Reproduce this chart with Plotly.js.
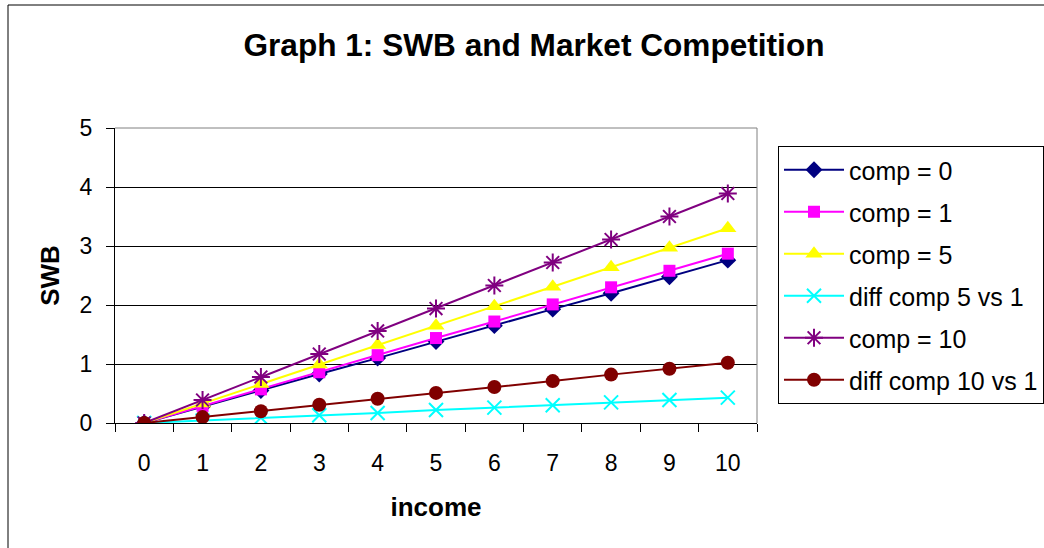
<!DOCTYPE html>
<html>
<head>
<meta charset="utf-8">
<script src="https://cdn.plot.ly/plotly-3.0.1.min.js"></script>
<style>
html,body{margin:0;padding:0;background:#fff;}
#chart{width:1044px;height:548px;}
</style>
</head>
<body>
<div id="chart"></div>
<script>
const income = ["0","1","2","3","4","5","6","7","8","9","10"];
const comp0 = [0, 0.28, 0.55, 0.83, 1.10, 1.38, 1.65, 1.93, 2.20, 2.48, 2.76];
const comp1 = [0, 0.29, 0.57, 0.86, 1.15, 1.44, 1.72, 2.01, 2.30, 2.58, 2.87];
const comp5 = [0, 0.33, 0.66, 0.99, 1.32, 1.65, 1.98, 2.31, 2.64, 2.97, 3.30];
const diff5v1 = [0, 0.04, 0.09, 0.13, 0.17, 0.22, 0.26, 0.30, 0.35, 0.39, 0.43];
const comp10 = [0, 0.39, 0.78, 1.17, 1.56, 1.94, 2.33, 2.72, 3.11, 3.50, 3.89];
const diff10v1 = [0, 0.10, 0.20, 0.31, 0.41, 0.51, 0.61, 0.71, 0.82, 0.92, 1.02];

const names = ["comp = 0","comp = 1","comp = 5","diff comp 5 vs 1","comp = 10","diff comp 10 vs 1"];
const series = [comp0, comp1, comp5, diff5v1, comp10, diff10v1];
const colors = ["#000080","#FF00FF","#FFFF00","#00FFFF","#800080","#800000"];
const symbols = ["diamond","square","triangle-up","x-thin-open","asterisk-open","circle"];
const sizes = [13, 12, 15, 14, 15, 14];

const FONT = "Liberation Sans, Arial, sans-serif";

const traces = series.map((ys, i) => ({
  type: "scatter",
  mode: "lines+markers",
  x: income,
  y: ys,
  name: names[i],
  legendgroup: "g" + i,
  line: {color: colors[i], width: 2},
  marker: {
    symbol: symbols[i],
    size: sizes[i],
    color: colors[i],
    line: {color: colors[i], width: (symbols[i].indexOf("open") >= 0) ? 2 : 0}
  }
}));

const L = 115, R = 757, T = 128, B = 423;
const W = R - L, H = B - T;
const px = x => (x - L) / W;
const py = y => (B - y) / H;

const layout = {
  width: 1044,
  height: 548,
  margin: {l: L, r: 1044 - R, t: T, b: 548 - B, pad: 0, autoexpand: false},
  paper_bgcolor: "#fff",
  plot_bgcolor: "#fff",
  font: {family: FONT, size: 23, color: "#000"},
  showlegend: true,
  title: {
    text: "<b>Graph 1: SWB and Market Competition</b>",
    font: {family: FONT, size: 31.6, color: "#000"},
    x: 534 / 1044, xanchor: "center", xref: "container",
    y: 1 - 45 / 548, yanchor: "middle", yref: "container"
  },
  xaxis: {
    type: "category",
    range: [-0.5, 10.5],
    tickson: "boundaries",
    ticks: "outside",
    ticklen: 8,
    tickcolor: "#000",
    ticklabelstandoff: 19,
    showgrid: false,
    showline: true,
    linecolor: "#000",
    linewidth: 1,
    zeroline: false,
    tickfont: {family: FONT, size: 23, color: "#000"},
    title: {text: "<b>income</b>", font: {family: FONT, size: 26, color: "#000"}, standoff: 23},
    fixedrange: true
  },
  yaxis: {
    range: [0, 5],
    dtick: 1,
    tick0: 0,
    ticks: "outside",
    ticklen: 8,
    tickcolor: "#000",
    ticklabelstandoff: 9,
    showgrid: true,
    gridcolor: "#000",
    gridwidth: 1,
    showline: true,
    linecolor: "#000",
    linewidth: 1,
    zeroline: false,
    tickfont: {family: FONT, size: 23, color: "#000"},
    title: {text: "<b>SWB</b>", font: {family: FONT, size: 26, color: "#000"}, standoff: 12},
    fixedrange: true
  },
  legend: {
    x: px(778), xanchor: "left",
    y: py(146), yanchor: "top",
    bordercolor: "#000",
    borderwidth: 1,
    bgcolor: "#fff",
    font: {family: FONT, size: 25, color: "#000"},
    tracegroupgap: 6.5,
    itemwidth: 60
  },
  shapes: [
    {type: "rect", xref: "paper", yref: "paper", x0: px(8), x1: px(1300), y0: py(600), y1: py(5),
     line: {color: "#000", width: 1}, fillcolor: "rgba(0,0,0,0)", layer: "below"},
    {type: "line", xref: "paper", yref: "paper", x0: 0, x1: 1, y0: 1, y1: 1,
     line: {color: "#808080", width: 1}, layer: "above"},
    {type: "line", xref: "paper", yref: "paper", x0: 1, x1: 1, y0: 0, y1: 1,
     line: {color: "#808080", width: 1}, layer: "above"}
  ]
};

Plotly.newPlot("chart", traces, layout, {displayModeBar: false, staticPlot: true});
</script>
</body>
</html>
